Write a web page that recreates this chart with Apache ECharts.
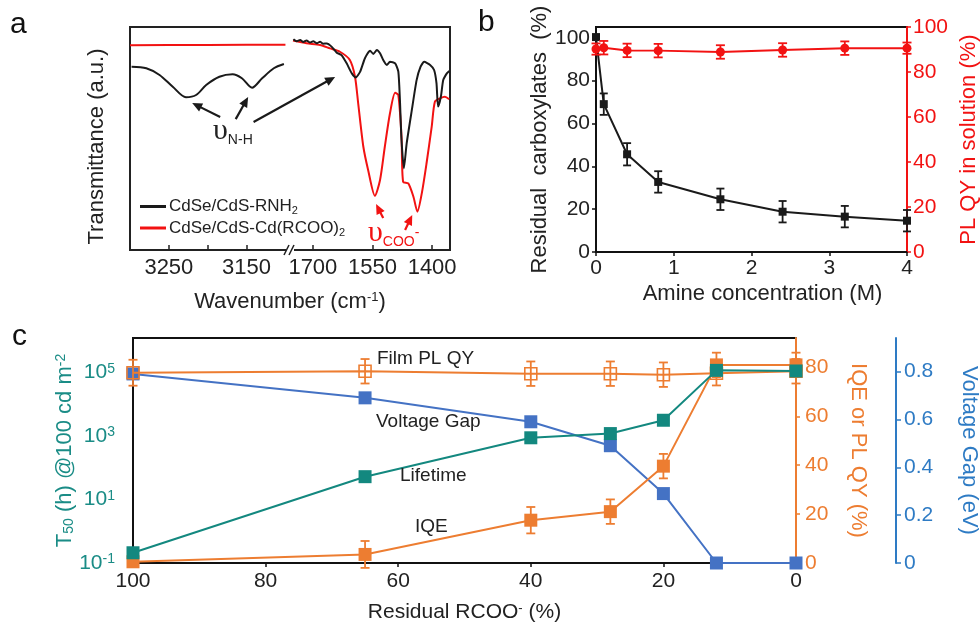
<!DOCTYPE html>
<html><head><meta charset="utf-8">
<script src="https://cdn.jsdelivr.net/npm/echarts@6/dist/echarts.min.js"></script>
<style>html,body{margin:0;padding:0;background:#fff}#c{width:980px;height:626px}</style>
</head><body><div id="c"></div>
<script>
// ---------- Panel a : FTIR ----------
const aLeftWn = [3298, 3279, 3262, 3245, 3228, 3215, 3202, 3185, 3168, 3156, 3143, 3130, 3115, 3102];
const aLeftBlack = [82.2, 81.5, 78.5, 73.2, 68.5, 69.5, 74, 77.7, 78.8, 77, 72.8, 77, 81.5, 83.4];
const aLeftRedWn = [3300, 3250, 3200, 3150, 3100];
const aLeftRed = [91.8, 91.9, 91.9, 92, 92];
const aRightBlackWn = [1749,1741,1732,1724,1716,1707,1699,1690,1682,1674,1665,1653,1640,1628,1615,1602,1592,1581,1569,1556,1548,1539,1531,1523,1514,1506,1493,1485,1481,1477,1471,1464,1451,1439,1429,1420,1405,1395,1389,1385,1378,1372,1363,1357];
const aRightBlack = [94.5,93.6,94.2,93.3,94.0,93.0,93.6,92.7,93.4,92.5,92.6,91.2,88.5,87.4,83.7,79.2,77.4,80,86,89.4,87.9,89.7,88.2,85.2,83,84.4,83.7,80,67.3,49.3,36.6,47.8,62.8,76.2,82.2,84.4,83,80.7,74.8,64.3,68.7,76.2,79.2,80.3];
const aRightRedWn = [1750,1716,1682,1657,1632,1607,1594,1586,1573,1561,1544,1531,1519,1506,1493,1485,1477,1473,1460,1447,1437,1426,1414,1401,1393,1380,1368,1357];
const aRightRed = [93.9,92.7,91.9,90.4,88.9,85.2,77.7,65.8,46.3,35.9,24.3,31.4,46.3,61.3,70.5,69.5,50.8,30.6,29.9,23.9,17.2,25.4,38.9,55.3,66.5,68,68.7,67.6];
const aLeftTicks = [3250, 3200, 3150];
const aLeftLabels = [3250, 3150];
const aRightTicks = [1700, 1550, 1400];
const nameBlack = 'CdSe/CdS-RNH2';
const nameRed = 'CdSe/CdS-Cd(RCOO)2';
// arrows [fromGrid, fromWn, fromT, toGrid, toWn, toT]
const aArrowsBlack = [[1, 3184, 59.6, 1, 3220, 65.9], [1, 3164, 58.7, 1, 3148, 68.6], [1, 3141, 57.4, 2, 1644, 77.6]];
const aArrowsRed = [[2, 1523, 14.3, 2, 1541, 20.6], [2, 1468, 9, 2, 1450, 15.7]];

// ---------- Panel b ----------
const bAmine = [0, 0.1, 0.4, 0.8, 1.6, 2.4, 3.2, 4];
const bCarbox = [100.3, 69, 45.6, 32.7, 24.6, 18.8, 16.5, 14.6];
const bCarboxErr = [0, 5, 5.2, 5, 5, 5, 5, 5];
const bPlqy = [90.2, 90.8, 89.6, 89.5, 88.9, 89.8, 90.6, 90.6];
const bPlqyErr = [2.5, 3, 3, 3, 3, 3, 3, 2.5];
const bXTicks = [0, 1, 2, 3, 4];
const bLeftTicks = [0, 20, 40, 60, 80, 100];
const bRightTicks = [0, 20, 40, 60, 80, 100];

// ---------- Panel c ----------
const cRes = [100, 65, 40, 28, 20, 12, 0];
const cLife = [0.21, 52, 870, 1180, 3100, 1.15e5, 1.1e5];
const cGap = [0.79, 0.69, 0.59, 0.49, 0.29, 0, 0];
const cIQE = [0.5, 3.5, 17.5, 21, 39.6, 81, 81];
const cIQEErr = [0, 5.5, 5.4, 5, 5, 5, 5];
const cFilm = [77.8, 78.4, 77.4, 77.4, 77, 77.6, 78.4];
const cFilmErr = [5.3, 5, 5, 5, 5, 5, 5];
const cLeftTicks = [0.1, 10, 1000, 100000];
const cOrangeTicks = [0, 20, 40, 60, 80];
const cBlueTicks = [0, 0.2, 0.4, 0.6, 0.8];

const FONT = 'Liberation Sans, Arial, sans-serif';
const TEAL = '#13887F', TEALAX = '#1A8C86', ORANGE = '#ED7D31', BLUE = '#4472C4', BLUEAX = '#2E7BC4', RED = '#F21212', BLK = '#1a1a1a';

const zip = (xs, ys) => xs.map((x, i) => [x, ys[i]]);
const zip3 = (xs, ys, es) => xs.map((x, i) => [x, ys[i], es[i]]);
const plain = v => String(v);

function errSeries(xi, yi, data, color, capHalf, z) {
  return {
    type: 'custom', xAxisIndex: xi, yAxisIndex: yi, z: z || 3, silent: true,
    data: data,
    renderItem: function (params, api) {
      const x = api.value(0), y = api.value(1), e = api.value(2);
      if (!e) return null;
      const lo = api.coord([x, y - e]), hi = api.coord([x, y + e]);
      const st = { stroke: color, lineWidth: 1.8 };
      return { type: 'group', children: [
        { type: 'line', shape: { x1: lo[0], y1: lo[1], x2: hi[0], y2: hi[1] }, style: st },
        { type: 'line', shape: { x1: lo[0] - capHalf, y1: lo[1], x2: lo[0] + capHalf, y2: lo[1] }, style: st },
        { type: 'line', shape: { x1: hi[0] - capHalf, y1: hi[1], x2: hi[0] + capHalf, y2: hi[1] }, style: st }
      ] };
    }
  };
}

const hidden = { axisLine: { show: false }, axisTick: { show: false }, axisLabel: { show: false }, splitLine: { show: false } };
const tickFont = (size, color) => ({ fontSize: size, color: color, fontFamily: FONT, formatter: plain });

const option = {
  animation: false,
  textStyle: { fontFamily: FONT },
  grid: [
    { left: 130, top: 27, width: 320, height: 223, outerBoundsMode: 'none', containLabel: false, show: true, borderColor: '#222', borderWidth: 2, backgroundColor: 'transparent' },
    { left: 130, top: 27, width: 157, height: 223, outerBoundsMode: 'none', containLabel: false },
    { left: 293, top: 27, width: 157, height: 223, outerBoundsMode: 'none', containLabel: false },
    { left: 596, top: 27, width: 311, height: 225, outerBoundsMode: 'none', containLabel: false, show: true, borderColor: '#111', borderWidth: 2, backgroundColor: 'transparent' },
    { left: 133, top: 338, width: 663, height: 225, outerBoundsMode: 'none', containLabel: false, show: true, borderColor: '#111', borderWidth: 2, backgroundColor: 'transparent' }
  ],
  legend: {
    data: [nameBlack, nameRed], orient: 'vertical', left: 135, top: 193,
    icon: 'rect', itemWidth: 26, itemHeight: 3, itemGap: 3,
    formatter: n => n === nameBlack ? '{t|CdSe/CdS-RNH}{s|2}' : '{t|CdSe/CdS-Cd(RCOO)}{s|2}',
    textStyle: { color: '#222', fontSize: 17, padding: [0, 0, 0, -2],
      rich: { t: { fontSize: 17, color: '#222' }, s: { fontSize: 11, color: '#222', verticalAlign: 'bottom', lineHeight: 20 } } }
  },
  xAxis: [
    Object.assign({ gridIndex: 0, type: 'value', min: 0, max: 1, name: '{t|Wavenumber (cm}{p|-1}{t|)}', nameLocation: 'middle', nameGap: 41,
      nameTextStyle: { fontSize: 22, color: '#222', rich: { t: { fontSize: 22, color: '#222' }, p: { fontSize: 13, color: '#222', verticalAlign: 'top' } } } }, hidden),
    { gridIndex: 1, type: 'value', min: 3098, max: 3300, inverse: true, splitLine: { show: false }, axisLine: { show: false },
      axisTick: { inside: true, length: 5, lineStyle: { color: '#222', width: 1.5 }, customValues: aLeftTicks },
      axisLabel: Object.assign({ customValues: aLeftLabels, margin: 7 }, tickFont(22, '#222')) },
    { gridIndex: 2, type: 'value', min: 1355, max: 1750, inverse: true, splitLine: { show: false }, axisLine: { show: false },
      axisTick: { inside: true, length: 5, lineStyle: { color: '#222', width: 1.5 }, customValues: aRightTicks },
      axisLabel: Object.assign({ customValues: aRightTicks, margin: 7 }, tickFont(22, '#222')) },
    { gridIndex: 3, type: 'value', min: 0, max: 4, splitLine: { show: false },
      axisLine: { lineStyle: { color: '#111', width: 2 } },
      axisTick: { length: 4, lineStyle: { color: '#111', width: 1.5 }, customValues: bXTicks },
      axisLabel: Object.assign({ customValues: bXTicks, margin: 6 }, tickFont(21, '#222')),
      name: 'Amine concentration (M)', nameLocation: 'middle', nameGap: 31,
      nameTextStyle: { fontSize: 22, color: '#222', padding: [0, 0, 0, 22] } },
    { gridIndex: 4, type: 'value', min: 0, max: 100, interval: 20, inverse: true, splitLine: { show: false },
      axisLine: { lineStyle: { color: '#111', width: 2 } },
      axisTick: { length: 4, lineStyle: { color: '#111', width: 1.5 } },
      axisLabel: Object.assign({ margin: 8 }, tickFont(21, '#222')),
      name: '{t|Residual RCOO}{p|-}{t| (%)}', nameLocation: 'middle', nameGap: 39,
      nameTextStyle: { fontSize: 21, color: '#222', rich: { t: { fontSize: 21, color: '#222' }, p: { fontSize: 13, color: '#222', verticalAlign: 'top' } } } }
  ],
  yAxis: [
    Object.assign({ gridIndex: 0, type: 'value', min: 0, max: 1, name: 'Transmittance (a.u.)', nameLocation: 'middle', nameRotate: 90, nameGap: 22,
      nameTextStyle: { fontSize: 22, color: '#222', padding: [0, 16, 0, 0] } }, hidden),
    Object.assign({ gridIndex: 1, type: 'value', min: 0, max: 100 }, hidden),
    Object.assign({ gridIndex: 2, type: 'value', min: 0, max: 100 }, hidden),
    { gridIndex: 3, type: 'value', min: 0, max: 105, position: 'left', splitLine: { show: false },
      axisLine: { lineStyle: { color: '#111', width: 2 } },
      axisTick: { length: 4, lineStyle: { color: '#111', width: 1.5 }, customValues: bLeftTicks },
      axisLabel: Object.assign({ customValues: bLeftTicks, margin: 6 }, tickFont(21, '#222')),
      name: 'Residual  carboxylates  (%)', nameLocation: 'middle', nameRotate: 90, nameGap: 43,
      nameTextStyle: { fontSize: 22, color: '#222' } },
    { gridIndex: 3, type: 'value', min: 0, max: 100, position: 'right', splitLine: { show: false },
      axisLine: { lineStyle: { color: RED, width: 2 } },
      axisTick: { length: 4, lineStyle: { color: RED, width: 1.5 }, customValues: bRightTicks },
      axisLabel: Object.assign({ customValues: bRightTicks, margin: 6 }, tickFont(21, RED)),
      name: 'PL QY in solution (%)', nameLocation: 'middle', nameRotate: 90, nameGap: 51,
      nameTextStyle: { fontSize: 22, color: RED } },
    { gridIndex: 4, type: 'log', logBase: 10, min: 0.1, max: 1.2e6, position: 'left', splitLine: { show: false },
      axisLine: { lineStyle: { color: TEALAX, width: 2 } },
      axisTick: { show: false },
      axisLabel: { customValues: cLeftTicks, margin: 18, color: TEALAX,
        formatter: v => '{b|10}{s|' + Math.round(Math.log10(v)) + '}',
        rich: { b: { fontSize: 21, color: TEALAX, fontFamily: FONT }, s: { fontSize: 14, color: TEALAX, verticalAlign: 'top', fontFamily: FONT } } },
      name: '{t|T}{s|50}{t| (h) @100 cd m}{p|-2}', nameLocation: 'middle', nameRotate: 90, nameGap: 57, nameMoveOverlap: false,
      nameTextStyle: { fontSize: 22, color: TEALAX, rich: { t: { fontSize: 22, color: TEALAX }, s: { fontSize: 14, color: TEALAX, verticalAlign: 'bottom' }, p: { fontSize: 14, color: TEALAX, verticalAlign: 'top' } } } },
    { gridIndex: 4, type: 'value', min: 0, max: 92, position: 'right', splitLine: { show: false },
      axisLine: { lineStyle: { color: ORANGE, width: 2 } },
      axisTick: { length: 4, lineStyle: { color: ORANGE, width: 1.5 }, customValues: cOrangeTicks },
      axisLabel: Object.assign({ customValues: cOrangeTicks, margin: 9 }, tickFont(21, ORANGE)),
      name: 'IQE or PL QY (%)', nameLocation: 'middle', nameRotate: -90, nameGap: 51,
      nameTextStyle: { fontSize: 22, color: ORANGE } },
    { gridIndex: 4, type: 'value', min: 0, max: 0.94, position: 'right', offset: 100, splitLine: { show: false },
      axisLine: { lineStyle: { color: BLUEAX, width: 2 } },
      axisTick: { length: 5, lineStyle: { color: BLUEAX, width: 1.5 }, customValues: cBlueTicks },
      axisLabel: Object.assign({ customValues: cBlueTicks, margin: 8 }, tickFont(21, BLUEAX)),
      name: 'Voltage Gap (eV)', nameLocation: 'middle', nameRotate: -90, nameGap: 62,
      nameTextStyle: { fontSize: 22, color: BLUEAX } }
  ],
  series: [
    // panel a
    { name: nameBlack, type: 'line', xAxisIndex: 1, yAxisIndex: 1, data: zip(aLeftWn, aLeftBlack), symbol: 'none', smooth: 0.3, color: BLK, lineStyle: { color: BLK, width: 2 } },
    { name: nameRed, type: 'line', xAxisIndex: 1, yAxisIndex: 1, data: zip(aLeftRedWn, aLeftRed), symbol: 'none', color: RED, lineStyle: { color: RED, width: 2 } },
    { name: nameRed, type: 'line', xAxisIndex: 2, yAxisIndex: 2, data: zip(aRightRedWn, aRightRed), symbol: 'none', smooth: 0.25, color: RED, lineStyle: { color: RED, width: 2 } },
    { name: nameBlack, type: 'line', xAxisIndex: 2, yAxisIndex: 2, data: zip(aRightBlackWn, aRightBlack), symbol: 'none', smooth: 0.2, color: BLK, lineStyle: { color: BLK, width: 2 } },
    // panel b
    { name: 'Residual', type: 'line', xAxisIndex: 3, yAxisIndex: 3, data: zip(bAmine, bCarbox), symbol: 'rect', symbolSize: 8, color: BLK, lineStyle: { color: BLK, width: 2 }, z: 4 },
    errSeries(3, 3, zip3(bAmine, bCarbox, bCarboxErr), BLK, 4, 4),
    { name: 'PLQY', type: 'line', xAxisIndex: 3, yAxisIndex: 4, data: zip(bAmine, bPlqy), symbol: 'circle', symbolSize: 9, color: RED, lineStyle: { color: RED, width: 2 }, z: 5 },
    errSeries(3, 4, zip3(bAmine, bPlqy, bPlqyErr), RED, 4.5, 5),
    // panel c
    { name: 'Voltage Gap', type: 'line', xAxisIndex: 4, yAxisIndex: 7, data: zip(cRes, cGap), symbol: 'rect', symbolSize: 13, color: BLUE, lineStyle: { color: BLUE, width: 2 }, z: 3 },
    { name: 'Film PL QY', type: 'line', xAxisIndex: 4, yAxisIndex: 6, data: zip(cRes, cFilm), symbol: 'rect', symbolSize: 12, color: ORANGE,
      itemStyle: { color: 'rgba(0,0,0,0)', borderColor: ORANGE, borderWidth: 1.6 }, lineStyle: { color: ORANGE, width: 2 }, z: 4 },
    errSeries(4, 6, zip3(cRes, cFilm, cFilmErr), ORANGE, 4.5, 4),
    { name: 'IQE', type: 'line', xAxisIndex: 4, yAxisIndex: 6, data: zip(cRes, cIQE), symbol: 'rect', symbolSize: 13, color: ORANGE, lineStyle: { color: ORANGE, width: 2 }, z: 5 },
    errSeries(4, 6, zip3(cRes, cIQE, cIQEErr), ORANGE, 4.5, 5),
    { name: 'Lifetime', type: 'line', xAxisIndex: 4, yAxisIndex: 5, data: zip(cRes, cLife), symbol: 'rect', symbolSize: 13, color: TEAL, lineStyle: { color: TEAL, width: 2 }, z: 6 }
  ]
};

const chart = echarts.init(document.getElementById('c'), null, { renderer: 'canvas' });
chart.setOption(option);

function toPx(g, p) { return chart.convertToPixel({ xAxisIndex: g, yAxisIndex: g }, p); }
function arrow(a, b, color) {
  const dx = b[0] - a[0], dy = b[1] - a[1], L = Math.hypot(dx, dy), ux = dx / L, uy = dy / L;
  const hl = 10, hw = 4.5;
  const base = [b[0] - ux * hl, b[1] - uy * hl];
  return [
    { type: 'line', shape: { x1: a[0], y1: a[1], x2: base[0] + ux * 2, y2: base[1] + uy * 2 }, style: { stroke: color, lineWidth: 2.2 }, z: 10 },
    { type: 'polygon', shape: { points: [b, [base[0] - uy * hw, base[1] + ux * hw], [base[0] + uy * hw, base[1] - ux * hw]] }, style: { fill: color }, z: 10 }
  ];
}
const g = [];
aArrowsBlack.forEach(r => g.push(...arrow(toPx(r[0], [r[1], r[2]]), toPx(r[3], [r[4], r[5]]), BLK)));
aArrowsRed.forEach(r => g.push(...arrow(toPx(r[0], [r[1], r[2]]), toPx(r[3], [r[4], r[5]]), RED)));

// axis break on panel a
g.push({ type: 'rect', shape: { x: 286, y: 245, width: 8, height: 10 }, style: { fill: '#fff' }, z: 20 });
g.push({ type: 'line', shape: { x1: 284, y1: 255, x2: 289, y2: 245 }, style: { stroke: '#222', lineWidth: 1.6 }, z: 21 });
g.push({ type: 'line', shape: { x1: 289, y1: 255, x2: 294, y2: 245 }, style: { stroke: '#222', lineWidth: 1.6 }, z: 21 });

// panel letters
const letter = (t, x, y) => ({ type: 'text', left: x, top: y, style: { text: t, fontSize: 30, fill: '#111', fontFamily: FONT }, z: 20 });
g.push(letter('a', 10, 10), letter('b', 478, 8), letter('c', 12, 322));

// spectral annotations
g.push({ type: 'text', left: 213, top: 116, z: 20, style: { text: '{u|υ}{s|N-H}', rich: {
  u: { fontSize: 30, fill: '#222', fontFamily: 'Liberation Serif, DejaVu Serif, serif' },
  s: { fontSize: 14, fill: '#222', fontFamily: FONT, verticalAlign: 'bottom', lineHeight: 32 } } } });
g.push({ type: 'text', left: 368, top: 218, z: 20, style: { text: '{u|υ}{s|COO}{m|-}', rich: {
  u: { fontSize: 30, fill: RED, fontFamily: 'Liberation Serif, DejaVu Serif, serif' },
  s: { fontSize: 14, fill: RED, fontFamily: FONT, verticalAlign: 'bottom', lineHeight: 32 },
  m: { fontSize: 14, fill: RED, fontFamily: FONT, verticalAlign: 'middle', lineHeight: 32 } } } });

// panel c labels
const lab = (t, x, y) => ({ type: 'text', left: x, top: y, z: 20, style: { text: t, fontSize: 19, fill: '#222', fontFamily: FONT } });
g.push(lab('Film PL QY', 377, 349), lab('Voltage Gap', 376, 412), lab('Lifetime', 400, 466), lab('IQE', 415, 517));

chart.setOption({ graphic: g });
</script></body></html>
